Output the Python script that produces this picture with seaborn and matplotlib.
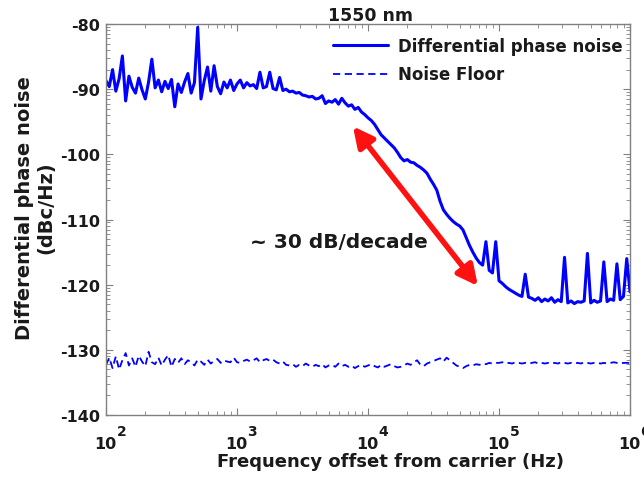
import numpy as np
import pandas as pd
import matplotlib
matplotlib.use('Agg')
import matplotlib.pyplot as plt
import seaborn as sns

# log10 of frequency grid, 0.025 decade steps from 1e2 to 1e6
log_f = np.linspace(2.0, 6.0, 161)

# differential phase noise (dBc/Hz), 8 values per 0.2 decade
phase_noise = [
    -88.7, -89.6, -87.0, -90.3, -88.4, -84.9, -91.8, -88.0,
    -89.7, -90.6, -88.3, -90.1, -91.5, -88.9, -85.4, -89.8,
    -88.6, -90.4, -88.8, -89.9, -88.5, -92.7, -89.2, -90.5,
    -88.9, -87.6, -90.6, -89.0, -80.5, -91.5, -88.7, -86.6,
    -90.3, -86.4, -89.6, -90.7, -88.9, -89.8, -88.6, -90.2,
    -89.2, -88.6, -89.8, -89.0, -89.5, -89.3, -89.9, -87.4,
    -89.8, -89.6, -87.4, -89.9, -90.1, -88.2, -90.2, -90.0,
    -90.4, -90.3, -90.6, -90.5, -90.9, -91.0, -91.2, -91.1,
    -91.5, -91.4, -91.0, -92.2, -91.8, -92.0, -91.6, -92.3,
    -91.4, -92.1, -92.6, -92.4, -93.1, -92.8, -93.5, -93.9,
    -94.4, -94.8, -95.4, -96.2, -97.0, -97.5, -98.0, -98.5,
    -99.0, -99.7, -100.5, -101.0, -100.8, -101.2, -101.3, -101.7,
    -102.0, -102.4, -102.9, -103.8, -104.6, -105.5, -107.2, -108.5,
    -109.2, -109.8, -110.3, -110.7, -111.0, -111.6, -112.8, -114.0,
    -115.0, -115.9, -116.6, -117.0, -113.4, -117.8, -118.2, -113.4,
    -119.4, -119.8, -120.3, -120.7, -121.0, -121.3, -121.6, -121.8,
    -118.4, -121.9, -122.1, -122.4, -122.0, -122.6, -122.2, -122.5,
    -122.0, -122.7, -122.3, -122.6, -115.8, -122.8, -122.5, -122.9,
    -122.6, -122.7, -122.5, -115.2, -122.8, -122.4, -122.7, -122.5,
    -116.5, -122.6, -122.2, -122.4, -116.8, -122.3, -121.8, -116.0,
    -121.1,
]

noise_floor = [
    -132.3, -131.2, -132.8, -131.0, -133.0, -131.6, -130.5, -132.4,
    -131.3, -132.6, -130.9, -131.8, -132.5, -130.3, -131.9, -132.2,
    -131.2, -132.4, -131.5, -130.8, -132.6, -131.4, -132.0, -131.3,
    -132.2, -131.6, -131.9, -132.4, -131.5, -131.8, -132.3, -131.5,
    -132.1, -131.7, -131.4, -132.0, -131.6, -131.8, -131.9, -131.2,
    -131.9, -132.0, -131.7, -131.5, -131.8, -131.6, -131.3, -131.9,
    -131.6, -131.4, -131.7, -131.5, -131.9, -132.1, -131.8, -132.3,
    -132.4, -132.2, -132.6, -132.3, -132.5, -132.1, -132.4, -132.6,
    -132.3, -132.5, -132.2, -132.7, -132.4, -132.3, -132.6, -132.1,
    -132.5, -132.3, -132.6, -132.4, -132.8, -132.5, -132.3, -132.6,
    -132.4, -132.2, -132.5, -132.7, -132.3, -132.6, -132.4, -132.2,
    -132.5, -132.7, -132.6, -132.4, -132.1, -132.3, -131.9, -131.6,
    -132.3, -132.5, -132.1, -131.9, -131.7, -131.5, -131.3, -131.8,
    -131.2, -131.6, -132.0, -132.4, -132.6, -132.8, -132.5, -132.3,
    -132.4, -132.2, -132.3, -132.1, -132.2, -132.0, -132.1, -132.0,
    -132.0, -131.9, -132.1, -132.0, -132.1, -131.9, -132.0, -132.1,
    -132.0, -132.1, -132.0, -131.9, -132.1, -132.0, -132.1, -132.0,
    -132.1, -132.0, -132.1, -131.9, -132.0, -132.1, -132.0, -132.1,
    -132.0, -132.1, -131.9, -132.0, -132.1, -132.0, -132.0, -132.1,
    -132.0, -132.1, -132.0, -131.9, -132.0, -132.1, -132.0, -132.0,
    -132.0,
]

series_names = ['Differential phase noise', 'Noise Floor']
x_exponents = [2, 3, 4, 5, 6]
y_ticks = [-140, -130, -120, -110, -100, -90, -80]
slope_text = '~ 30 dB/decade'
arrow_start = (7.67e3, -95.7)
arrow_end = (6.9e4, -120.2)

sns.set_style('ticks')
plt.rcParams['font.family'] = ['DejaVu Sans']
plt.rcParams['font.weight'] = 'bold'

ink = '#1a1a1a'
blue = '#0000ff'

freq = 10 ** log_f
df = pd.DataFrame({'f': freq, 'pn': phase_noise, 'floor': noise_floor})

fig = plt.figure(figsize=(6.44, 4.81), dpi=100)
ax = fig.add_axes([0.1646, 0.1351, 0.8137, 0.8129])

sns.lineplot(data=df, x='f', y='pn', ax=ax, color=blue, lw=2.2,
             label=series_names[0])
sns.lineplot(data=df, x='f', y='floor', ax=ax, color=blue, lw=1.3,
             label=series_names[1])
ax.lines[1].set_dashes([4, 2.5])

ax.set_xscale('log')
ax.set_xlim(1e2, 1e6)
ax.set_ylim(-140, -80)

ax.set_yticks(y_ticks)
ax.set_yticklabels([str(v) for v in y_ticks], fontsize=11.5, fontweight='bold')
minor_y = [m + 10 * np.log10(k) for m in y_ticks[:-1] for k in range(2, 10)]
ax.set_yticks(minor_y, minor=True)

# x tick labels drawn as "10" plus a raised exponent, like the original
xt = [10.0 ** e for e in x_exponents]
ax.set_xticks(xt)
ax.set_xticklabels([''] * len(xt))
for e, t in zip(x_exponents, xt):
    ax.annotate('10', xy=(t, 0), xycoords=('data', 'axes fraction'),
                xytext=(-0.5, -20.5), textcoords='offset points',
                ha='center', va='center', fontsize=11.5, fontweight='bold',
                color=ink, annotation_clip=False)
    ax.annotate(str(e), xy=(t, 0), xycoords=('data', 'axes fraction'),
                xytext=(7.5, -11.5), textcoords='offset points',
                ha='left', va='center', fontsize=10, fontweight='bold',
                color=ink, annotation_clip=False)

for s in ax.spines.values():
    s.set_color('#808080')
    s.set_linewidth(1.0)
    s.set_visible(True)
ax.tick_params(which='both', direction='in', top=True, right=True, color='#808080',
               labelcolor=ink)
ax.tick_params(which='major', length=5, width=0.8, pad=4)
ax.tick_params(which='minor', length=3, width=0.6)

ax.set_xlabel('Frequency offset from carrier (Hz)', fontsize=13, fontweight='bold',
              color=ink, va='top')
ax.xaxis.set_label_coords(0.542, -0.094)
ax.set_ylabel('Differential phase noise\n(dBc/Hz)', fontsize=14, fontweight='bold',
              color=ink, linespacing=1.15, va='center', ha='center')
ax.yaxis.set_label_coords(-0.1355, 0.532)
ax.set_title('1550 nm', fontsize=12.5, fontweight='bold', pad=3, color=ink, x=0.504)

ax.annotate('', xy=arrow_end, xytext=arrow_start,
            arrowprops=dict(arrowstyle='<|-|>', color='#ff1111', lw=4,
                            mutation_scale=30, shrinkA=0, shrinkB=0))
ax.text(1.25e3, -113.3, slope_text, fontsize=14.5, fontweight='bold',
        color=ink, va='center', ha='left')

leg = ax.legend(loc='upper right', bbox_to_anchor=(0.9866, 0.968), frameon=False,
                fontsize=12, handlelength=3.3, borderaxespad=0, borderpad=0,
                labelspacing=0.65, handletextpad=0.6)
for t in leg.get_texts():
    t.set_fontweight('bold')
    t.set_color(ink)
leg.get_lines()[1].set_dashes([4, 2.5])

fig.savefig('out.png', dpi=100)
